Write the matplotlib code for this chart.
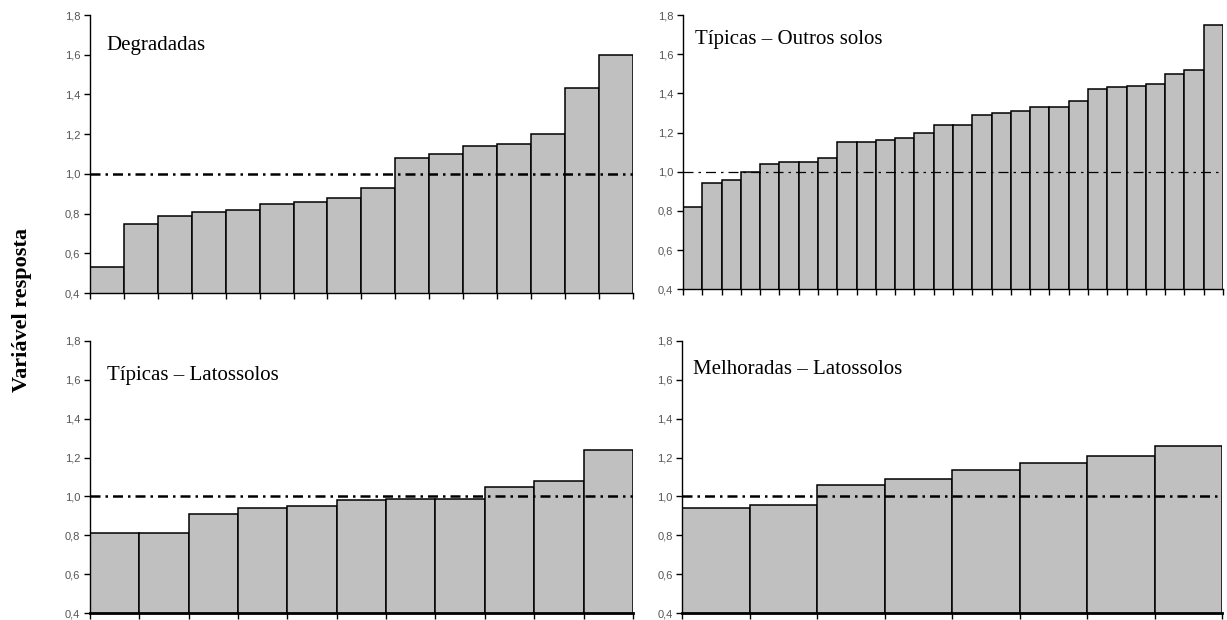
import matplotlib.pyplot as plt

# Values (response variable, sorted per group)
degradadas = [0.53, 0.75, 0.79, 0.81, 0.82, 0.85, 0.86, 0.88, 0.93,
              1.08, 1.10, 1.14, 1.15, 1.20, 1.43, 1.60]
tipicas_outros = [0.82, 0.94, 0.96, 1.00, 1.04, 1.05, 1.05, 1.07, 1.15, 1.15,
                  1.16, 1.17, 1.20, 1.24, 1.24, 1.29, 1.30, 1.31, 1.33, 1.33,
                  1.36, 1.42, 1.43, 1.44, 1.45, 1.50, 1.52, 1.75]
tipicas_lato = [0.81, 0.81, 0.91, 0.94, 0.95, 0.98, 0.985, 0.985, 1.05, 1.08, 1.24]
melhoradas_lato = [0.94, 0.955, 1.06, 1.09, 1.135, 1.17, 1.21, 1.26]

titles = ["Degradadas", "Típicas – Outros solos",
          "Típicas – Latossolos", "Melhoradas – Latossolos"]
yticks = [0.4, 0.6, 0.8, 1.0, 1.2, 1.4, 1.6, 1.8]
ytick_labels = ["0,4", "0,6", "0,8", "1,0", "1,2", "1,4", "1,6", "1,8"]
ref_value = 1.0

fig = plt.figure(figsize=(12.27, 6.2), dpi=100)

# axes rectangles in figure fraction
rects = [[0.0733, 0.5274, 0.4425, 0.4484],
         [0.5566, 0.5334, 0.4401, 0.4424],
         [0.0733, 0.0108, 0.4425, 0.4397],
         [0.5561, 0.0108, 0.4398, 0.4397]]
text_pos = [(0.031, 0.892), (0.022, 0.909), (0.031, 0.874), (0.020, 0.893)]
ref_lw = [1.8, 0.9, 1.8, 1.8]
bottom_lw = [1.0, 1.0, 2.0, 2.0]

for data, title, rect, tp, rlw, blw in zip(
        [degradadas, tipicas_outros, tipicas_lato, melhoradas_lato],
        titles, rects, text_pos, ref_lw, bottom_lw):
    ax = fig.add_axes(rect)
    n = len(data)
    ax.bar(range(n), data, width=1, align='edge', color='#c0c0c0',
           edgecolor='black', linewidth=1.1)
    ax.axhline(ref_value, color='black', lw=rlw,
               linestyle=(0, (6 / rlw * 1.2, 3 / rlw * 1.2, 1.5 / rlw * 1.2, 3 / rlw * 1.2)))
    ax.set_xlim(0, n)
    ax.set_ylim(0.4, 1.8)
    ax.set_xticks(range(n + 1))
    ax.set_xticklabels([])
    ax.set_yticks(yticks)
    ax.set_yticklabels(ytick_labels, family='Liberation Sans', fontsize=8,
                       color='#555555')
    ax.tick_params(axis='both', direction='out', length=4, width=1,
                   color='black', pad=3)
    for s in ['top', 'right']:
        ax.spines[s].set_visible(False)
    ax.spines['left'].set_linewidth(1)
    ax.spines['bottom'].set_linewidth(blw)
    ax.text(tp[0], tp[1], title, transform=ax.transAxes, ha='left',
            va='center', family='Liberation Serif', fontsize=15)

fig.text(22 / 1227, 0.5, "Variável resposta", rotation=90, ha='center',
         va='center', family='Liberation Serif', fontweight='bold', fontsize=16)

fig.savefig("out.png", dpi=100)
